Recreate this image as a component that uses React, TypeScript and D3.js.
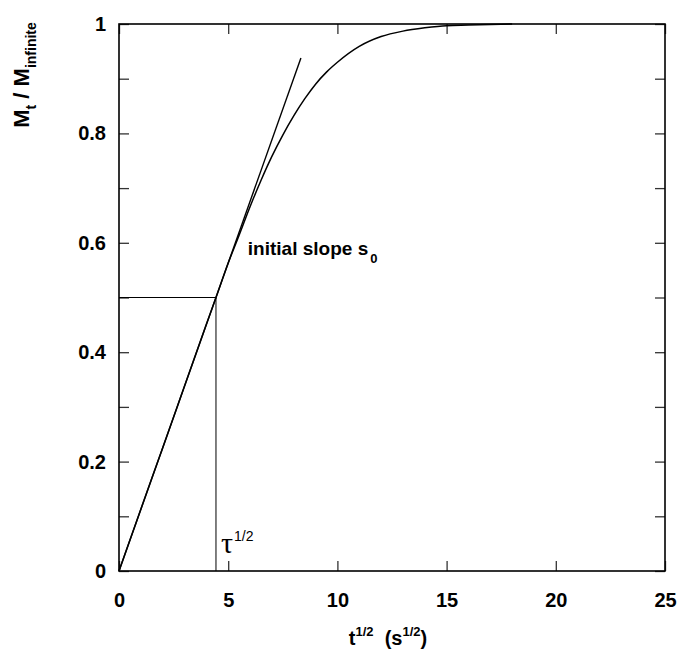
import React, { useRef, useEffect } from 'react';
import * as d3 from 'd3';

// sqrt(t) values and fractional uptake
const sqrtT = [0, 1, 2, 3, 4, 4.44, 5, 5.5, 6, 6.5, 7, 7.5, 8, 8.5, 9, 9.5, 10, 11, 12, 13, 14, 15, 16, 17, 18];
const uptake = [0, 0.113, 0.225, 0.338, 0.451, 0.5, 0.563, 0.614, 0.666, 0.714, 0.758, 0.797, 0.832, 0.863, 0.89, 0.912, 0.93, 0.959, 0.977, 0.987, 0.993, 0.997, 0.998, 0.999, 1.0];

// initial slope line and half-time marker
const slopeX = [0, 8.33];
const slopeY = [0, 0.938];
const halfTime = 4.44;
const halfValue = 0.5;

const xTicks = [0, 5, 10, 15, 20, 25];
const yTicks = [0, 0.1, 0.2, 0.3, 0.4, 0.5, 0.6, 0.7, 0.8, 0.9, 1];
const yLabels = [0, 0.2, 0.4, 0.6, 0.8, 1];

export default function App() {
  const svgRef = useRef<SVGSVGElement>(null);

  useEffect(() => {
    const width = 679,
      height = 655;
    const margin = { top: 24, right: 14, bottom: 84, left: 119 };
    const w = width - margin.left - margin.right,
      h = height - margin.top - margin.bottom;

    const root = d3.select(svgRef.current);
    root.selectAll('*').remove();
    const svg = root.append('g').attr('transform', 'translate(' + margin.left + ',' + margin.top + ')');

    const x = d3.scaleLinear().domain([0, 25]).range([0, w]);
    const y = d3.scaleLinear().domain([0, 1]).range([h, 0]);

    const font = "'Liberation Sans', Arial, sans-serif";

    // bottom axis
    const gx = svg
      .append('g')
      .attr('transform', 'translate(0,' + h + ')')
      .call(d3.axisBottom(x).tickValues(xTicks).tickSizeInner(-10).tickSizeOuter(0).tickPadding(22));
    // top axis (ticks only)
    const gxt = svg
      .append('g')
      .call(d3.axisTop(x).tickValues(xTicks).tickSizeInner(-10).tickSizeOuter(0).tickFormat(() => ''));
    // left axis
    const gy = svg
      .append('g')
      .call(
        d3
          .axisLeft(y)
          .tickValues(yTicks)
          .tickSizeInner(-10)
          .tickSizeOuter(0)
          .tickPadding(13)
          .tickFormat(d => (yLabels.some(v => Math.abs(v - +d) < 1e-9) ? String(+(+d).toFixed(1)) : ''))
      );
    // right axis (ticks only)
    const gyr = svg
      .append('g')
      .attr('transform', 'translate(' + w + ',0)')
      .call(d3.axisRight(y).tickValues(yTicks).tickSizeInner(-10).tickSizeOuter(0).tickFormat(() => ''));

    [gx, gxt, gy, gyr].forEach(g => {
      g.select('.domain').remove();
      g.selectAll('line').attr('stroke', '#333').attr('stroke-width', 1.3);
      g.selectAll('text')
        .attr('font-family', font)
        .attr('font-weight', 'bold')
        .attr('font-size', 20)
        .attr('fill', '#000');
    });

    // frame
    svg
      .append('rect')
      .attr('x', 0)
      .attr('y', 0)
      .attr('width', w)
      .attr('height', h)
      .attr('fill', 'none')
      .attr('stroke', '#000')
      .attr('stroke-width', 1.6);

    // half-time guide lines
    svg
      .append('line')
      .attr('x1', x(0))
      .attr('x2', x(halfTime))
      .attr('y1', y(halfValue))
      .attr('y2', y(halfValue))
      .attr('stroke', '#000')
      .attr('stroke-width', 1);
    svg
      .append('line')
      .attr('x1', x(halfTime))
      .attr('x2', x(halfTime))
      .attr('y1', y(0))
      .attr('y2', y(halfValue))
      .attr('stroke', '#000')
      .attr('stroke-width', 1);

    // initial slope line
    svg
      .append('line')
      .attr('x1', x(slopeX[0]))
      .attr('y1', y(slopeY[0]))
      .attr('x2', x(slopeX[1]))
      .attr('y2', y(slopeY[1]))
      .attr('stroke', '#000')
      .attr('stroke-width', 1.4);

    // uptake curve
    const pts = sqrtT.map((t, i) => [t, uptake[i]] as [number, number]);
    const line = d3
      .line<[number, number]>()
      .x(d => x(d[0]))
      .y(d => y(d[1]))
      .curve(d3.curveMonotoneX);
    svg
      .append('path')
      .datum(pts)
      .attr('d', line)
      .attr('fill', 'none')
      .attr('stroke', '#000')
      .attr('stroke-width', 1.5);

    // annotation: initial slope s0
    const ann = svg
      .append('text')
      .attr('x', x(5.9))
      .attr('y', y(0.578))
      .attr('font-family', font)
      .attr('font-weight', 'bold')
      .attr('font-size', 19)
      .attr('fill', '#000');
    ann.append('tspan').text('initial slope s');
    ann.append('tspan').attr('dx', 2).attr('dy', 8).attr('font-size', 13).text('0');

    // annotation: tau^1/2
    const tau = svg
      .append('text')
      .attr('x', x(halfTime) + 5)
      .attr('y', y(0.033))
      .attr('font-family', "'Liberation Serif', 'Times New Roman', serif")
      .attr('font-size', 30)
      .attr('fill', '#000');
    tau.append('tspan').text('τ');
    tau
      .append('tspan')
      .attr('dx', 1)
      .attr('dy', -12)
      .attr('font-family', font)
      .attr('font-size', 14)
      .text('1/2');

    // x axis title
    const xt = svg
      .append('text')
      .attr('x', 269)
      .attr('y', h + 74)
      .attr('text-anchor', 'middle')
      .attr('font-family', font)
      .attr('font-weight', 'bold')
      .attr('font-size', 20)
      .attr('fill', '#000');
    xt.append('tspan').text('t');
    xt.append('tspan').attr('dy', -9).attr('font-size', 13).text('1/2');
    xt.append('tspan').attr('dy', 9).text('\u00a0 (s');
    xt.append('tspan').attr('dy', -9).attr('font-size', 13).text('1/2');
    xt.append('tspan').attr('dy', 9).text(')');

    // y axis title
    const yt = svg
      .append('text')
      .attr('transform', 'translate(' + -90 + ',' + 51 + ') rotate(-90)')
      .attr('text-anchor', 'middle')
      .attr('font-family', font)
      .attr('font-weight', 'bold')
      .attr('font-size', 22)
      .attr('fill', '#000');
    yt.append('tspan').text('M');
    yt.append('tspan').attr('dy', 7).attr('font-size', 14).text('t');
    yt.append('tspan').attr('dy', -7).text(' / M');
    yt.append('tspan').attr('dy', 7).attr('font-size', 14).text('infinite');
  }, []);

  return (
    <svg
      ref={svgRef}
      width={679}
      height={655}
      style={{ position: 'absolute', left: 0, top: 0, background: '#fff' }}
    />
  );
}
